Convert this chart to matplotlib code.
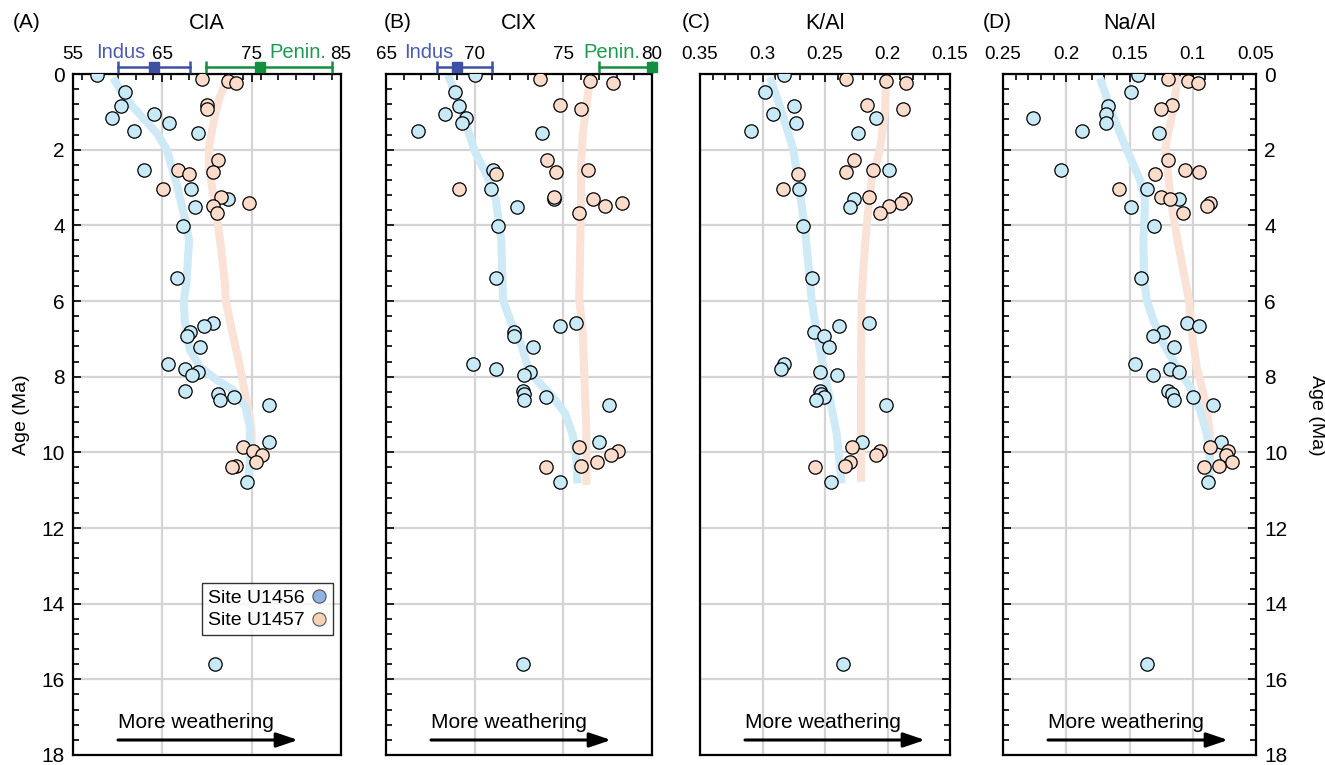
import numpy as np
import matplotlib.pyplot as plt
from matplotlib.lines import Line2D
from matplotlib.ticker import FixedLocator, MultipleLocator, FuncFormatter
import matplotlib.transforms as mtransforms

plt.rcParams['font.family'] = ['Liberation Sans', 'DejaVu Sans']

W, H = 1325, 765

# --- sample ages (Ma) ---
AGE_U1456 = [0.03, 0.47, 0.85, 1.07, 1.17, 1.30, 1.50, 1.56, 2.53, 3.04, 3.31, 3.52, 4.03, 5.40,
             6.59, 6.66, 6.82, 6.93, 7.21, 7.66, 7.79, 7.88, 7.96, 8.39, 8.47, 8.53, 8.61, 8.76,
             9.72, 10.79, 15.60]
AGE_U1457 = [0.13, 0.19, 0.25, 0.82, 0.93, 2.28, 2.54, 2.59, 2.64, 3.04, 3.24, 3.31, 3.40, 3.50,
             3.68, 9.86, 9.97, 10.08, 10.26, 10.35, 10.39]

# --- weathering indices, same order as the ages ---
CIA_U1456 = [57.7, 60.8, 60.4, 64.1, 59.4, 65.7, 61.8, 69.0, 63.0, 68.2, 72.4, 68.7, 67.3, 66.6,
             70.7, 69.7, 68.1, 67.8, 69.2, 65.6, 67.5, 69.0, 68.3, 67.5, 71.2, 73.0, 71.4, 76.9,
             76.9, 74.5, 70.9]
CIA_U1457 = [69.4, 72.3, 73.3, 70.0, 70.0, 71.2, 66.8, 70.7, 68.0, 65.1, 71.6, np.nan, 74.7, 70.7,
             71.1, 74.0, 75.2, 76.2, 75.5, 73.3, 72.8]

CIX_U1456 = [70.0, 68.9, 69.1, 68.3, 69.5, 69.3, 66.8, 73.8, 71.05, 70.9, 74.5, 72.4, 71.3, 71.2,
             75.7, 74.8, 72.2, 72.2, 73.3, 69.9, 71.2, 73.1, 72.8, 72.7, 72.8, 74.0, 72.8, 77.6,
             77.0, 74.8, 72.7]
CIX_U1457 = [73.7, 76.5, 77.8, 74.8, 76.0, 74.1, 76.4, 74.6, 71.2, 69.1, 74.5, 76.7, 78.3, 77.35,
             75.9, 75.9, 78.1, 77.7, 76.9, 76.0, 74.0]

KAL_U1456 = [0.2828, 0.2983, 0.2746, 0.2913, 0.2094, 0.2729, 0.3090, 0.2233, 0.1990, 0.2708,
             0.2265, 0.2300, 0.2676, 0.2604, 0.2145, 0.2388, 0.2591, 0.2505, 0.2471, 0.2831,
             0.2849, 0.2540, 0.2404, 0.2540, 0.2532, 0.2505, 0.2575, 0.2010, 0.2201, 0.2452, 0.2356]
KAL_U1457 = [0.2332, 0.2010, 0.1855, 0.2164, 0.1873, 0.2265, 0.2113, 0.2334, 0.2713, 0.2833,
             0.2148, 0.1858, 0.1892, 0.1990, 0.2062, 0.2284, 0.2060, 0.2094, 0.2297, 0.2337, 0.2577]

NAAL_U1456 = [0.1433, 0.1486, 0.1673, 0.1689, 0.2265, 0.1689, 0.1873, 0.1264, 0.2044, 0.1364,
              0.1111, 0.1490, 0.1306, 0.1409, 0.1045, 0.0948, 0.1235, 0.1317, 0.1151, 0.1454,
              0.1182, 0.1111, 0.1317, 0.1198, 0.1164, 0.0996, 0.1148, 0.0842, 0.0779, 0.0877, 0.1362]
NAAL_U1457 = [0.1196, 0.1035, 0.0961, 0.1164, 0.1249, 0.1196, 0.1059, 0.0948, 0.1301, 0.1583,
              0.1249, 0.1180, 0.0864, 0.0887, 0.1077, 0.0861, 0.0721, 0.0739, 0.0690, 0.0792, 0.0911]

# --- smoothed trends ---
FIT_AGE_CIA_1456 = [0.1, 0.5, 0.87, 1.2, 1.57, 2.0, 2.5, 2.9, 3.4, 3.8, 4.4, 5.5, 6.0, 6.5, 7.0,
                    7.3, 7.74, 8.09, 8.35, 8.8, 9.32, 9.94, 10.7]
FIT_CIA_1456 = [59.5, 60.5, 61.7, 63.0, 64.4, 65.5, 66.1, 66.6, 67.1, 67.5, 68.0, 67.7, 67.4, 67.5,
                67.8, 68.1, 69.2, 71.1, 72.9, 74.3, 74.8, 74.8, 74.7]
FIT_AGE_CIA_1457 = [0.16, 0.69, 1.2, 1.57, 2.0, 2.45, 2.89, 3.33, 3.77, 4.65, 5.53, 6.0, 6.9, 7.74,
                    8.5, 9.06, 9.5, 10.0, 10.4]
FIT_CIA_1457 = [72.2, 71.3, 70.8, 70.5, 70.2, 70.2, 70.5, 70.8, 71.1, 71.6, 72.0, 72.1, 72.9, 73.7,
                74.3, 74.8, 75.0, 75.0, 74.9]

FIT_AGE_CIX_1456 = [0.03, 0.86, 2.03, 2.8, 3.33, 4.4, 5.97, 6.5, 7.12, 7.74, 8.09, 8.53, 8.97, 9.5,
                    9.94, 10.82]
FIT_CIX_1456 = [68.5, 69.2, 70.0, 70.8, 71.2, 71.5, 71.6, 72.0, 72.6, 73.0, 73.5, 74.4, 75.1, 75.5,
                75.7, 75.8]
FIT_AGE_CIX_1457 = [0.16, 0.5, 1.57, 2.45, 3.33, 5.97, 6.85, 8.18, 9.5, 10.86]
FIT_CIX_1457 = [76.5, 76.4, 76.1, 76.0, 76.0, 75.9, 76.1, 76.2, 76.3, 76.3]

FIT_AGE_KAL_1456 = [0.09, 0.86, 2.0, 3.15, 4.1, 5.97, 6.85, 7.74, 8.62, 9.5, 10.82]
FIT_KAL_1456 = [0.294, 0.286, 0.2753, 0.270, 0.266, 0.2607, 0.2567, 0.2513, 0.246, 0.2407, 0.2367]
FIT_AGE_KAL_1457 = [0.16, 0.95, 2.0, 2.8, 3.33, 4.03, 5.0, 5.97, 7.74, 10.78]
FIT_KAL_1457 = [0.2012, 0.2020, 0.2060, 0.2127, 0.2146, 0.2167, 0.2190, 0.2207, 0.2212, 0.2212]

FIT_AGE_NAAL_1456 = [0.11, 1.13, 2.0, 2.8, 3.33, 4.4, 5.4, 5.97, 6.5, 7.12, 7.74, 8.27, 8.88, 9.5,
                     9.94, 10.73]
FIT_NAAL_1456 = [0.1733, 0.1628, 0.1522, 0.1417, 0.1377, 0.1390, 0.1385, 0.1364, 0.1312, 0.1233,
                 0.1127, 0.1022, 0.0943, 0.0890, 0.0869, 0.0869]
FIT_AGE_NAAL_1457 = [0.05, 0.95, 1.74, 2.0, 2.71, 3.33, 4.4, 5.45, 5.97, 6.85, 7.74, 8.62, 9.5, 10.4]
FIT_NAAL_1457 = [0.1119, 0.1154, 0.1206, 0.1217, 0.1193, 0.1174, 0.1120, 0.1060, 0.1030, 0.1008,
                 0.0969, 0.0903, 0.0864, 0.0860]

# --- source end-members (centre, low, high) ---
INDUS_CIA = (64.1, 60.0, 68.1)
PENIN_CIA = (75.9, 69.9, 84.0)
INDUS_CIX = (69.0, 67.9, 71.0)
PENIN_CIX = (80.0, 77.0, 80.0)

BLUE_FILL = '#C8E9F6'
ORANGE_FILL = '#FBDCCB'
BLUE_LINE = '#CDEAF6'
ORANGE_LINE = '#FBE2D6'
INDUS_COL = '#3E50A6'
PENIN_COL = '#13903F'

panels = [
    dict(px=(73, 341), title='CIA', letter='(A)', letter_px=27, xlim=(55, 85),
         major=[55, 65, 75, 85], minor=2, v56=CIA_U1456, v57=CIA_U1457,
         f56=(FIT_AGE_CIA_1456, FIT_CIA_1456), f57=(FIT_AGE_CIA_1457, FIT_CIA_1457),
         indus=INDUS_CIA, penin=PENIN_CIA, indus_lab=60.3, penin_lab=80.2,
         yleft=True, yright=False),
    dict(px=(386, 652), title='CIX', letter='(B)', letter_px=398, xlim=(65, 80),
         major=[65, 70, 75, 80], minor=1, v56=CIX_U1456, v57=CIX_U1457,
         f56=(FIT_AGE_CIX_1456, FIT_CIX_1456), f57=(FIT_AGE_CIX_1457, FIT_CIX_1457),
         indus=INDUS_CIX, penin=PENIN_CIX, indus_lab=67.4, penin_lab=77.75,
         yleft=True, yright=False),
    dict(px=(700, 950), title='K/Al', letter='(C)', letter_px=696, xlim=(0.35, 0.15),
         major=[0.35, 0.3, 0.25, 0.2, 0.15], minor=0.01, v56=KAL_U1456, v57=KAL_U1457,
         f56=(FIT_AGE_KAL_1456, FIT_KAL_1456), f57=(FIT_AGE_KAL_1457, FIT_KAL_1457),
         indus=None, penin=None, yleft=False, yright=True),
    dict(px=(1003, 1256), title='Na/Al', letter='(D)', letter_px=997, xlim=(0.25, 0.05),
         major=[0.25, 0.2, 0.15, 0.1, 0.05], minor=0.01, v56=NAAL_U1456, v57=NAAL_U1457,
         f56=(FIT_AGE_NAAL_1456, FIT_NAAL_1456), f57=(FIT_AGE_NAAL_1457, FIT_NAAL_1457),
         indus=None, penin=None, yleft=True, yright=True),
]

TOP, BOT = 74, 755

fig = plt.figure(figsize=(W / 100, H / 100), dpi=100)

for i, p in enumerate(panels):
    l, r = p['px']
    ax = fig.add_axes([l / W, 1 - BOT / H, (r - l) / W, (BOT - TOP) / H])
    ax.set_xlim(*p['xlim'])
    ax.set_ylim(18, 0)

    ax.plot(p['f57'][1], p['f57'][0], color=ORANGE_LINE, lw=5.8, solid_capstyle='butt', zorder=2)
    ax.plot(p['f56'][1], p['f56'][0], color=BLUE_LINE, lw=5.8, solid_capstyle='butt', zorder=2)
    ax.scatter(p['v56'], AGE_U1456, s=92, facecolor=BLUE_FILL, edgecolor='black', linewidths=0.9, zorder=3)
    ax.scatter(p['v57'], AGE_U1457, s=92, facecolor=ORANGE_FILL, edgecolor='black', linewidths=0.9, zorder=4)

    # axes styling
    ax.xaxis.set_major_locator(FixedLocator(p['major']))
    ax.xaxis.set_minor_locator(MultipleLocator(p['minor']))
    ax.xaxis.set_major_formatter(FuncFormatter(lambda v, pos: f'{v:g}'))
    ax.yaxis.set_major_locator(MultipleLocator(2))
    ax.yaxis.set_minor_locator(MultipleLocator(0.4))
    ax.tick_params(axis='x', which='both', direction='in', top=True, bottom=False,
                   labeltop=True, labelbottom=False, labelsize=13.5, pad=8)
    ax.tick_params(axis='y', which='both', direction='in', left=p['yleft'],
                   right=p['yright'], labelleft=(i == 0), labelright=(i == 3), labelsize=15, pad=6)
    ax.tick_params(which='major', length=6, width=1.2)
    ax.tick_params(which='minor', length=4, width=1.2)
    for s in ax.spines.values():
        s.set_linewidth(1.6)
    ax.grid(True, which='major', color='#d4d4d4', lw=1.6)
    ax.set_axisbelow(True)

    ax.text(0.5, 1 + (TOP - 23) / (BOT - TOP), p['title'], transform=ax.transAxes,
            ha='center', va='center', fontsize=15.5)
    ax.text((p['letter_px'] - l) / (r - l), 1 + (TOP - 22) / (BOT - TOP), p['letter'],
            transform=ax.transAxes, ha='center', va='center', fontsize=15)

    # source end-member bars
    if p['indus'] is not None:
        trans = mtransforms.blended_transform_factory(ax.transData, ax.transAxes)
        for rng, col in [(p['indus'], INDUS_COL), (p['penin'], PENIN_COL)]:
            c, lo, hi = rng
            yb = 1.0105
            ax.plot([lo, hi], [yb, yb], color=col, lw=1.8, transform=trans, clip_on=False, zorder=5)
            ax.plot([lo, hi], [yb, yb], ls='', marker='|', ms=8, mew=1.8, color=col,
                    transform=trans, clip_on=False, zorder=5)
            ax.plot([c], [yb], ls='', marker='s', ms=7, color=col, transform=trans,
                    clip_on=False, zorder=6)
        ax.text(p['indus_lab'], 1 + (TOP - 52) / (BOT - TOP), 'Indus', transform=trans,
                ha='center', va='center', fontsize=14.5, color='#4A5CB2')
        ax.text(p['penin_lab'], 1 + (TOP - 52) / (BOT - TOP), 'Penin.', transform=trans,
                ha='center', va='center', fontsize=14.5, color='#1C9A4E')

    # weathering arrow
    ax.annotate('', xy=(225, 15), xytext=(45, 15), xycoords='axes pixels',
                textcoords='axes pixels',
                arrowprops=dict(arrowstyle='-|>,head_length=0.65,head_width=0.22',
                                mutation_scale=20, lw=2.2, color='black',
                                shrinkA=0, shrinkB=0))
    ax.annotate('More weathering', xy=(45, 33), xycoords='axes pixels',
                ha='left', va='center', fontsize=15)

    if i == 0:
        handles = [
            Line2D([], [], ls='', marker='o', ms=9.5, mfc='#8DB4E2', mec='#555555', mew=0.8,
                   label='Site U1456'),
            Line2D([], [], ls='', marker='o', ms=9.5, mfc='#F9D2B6', mec='#555555', mew=0.8,
                   label='Site U1457'),
        ]
        leg = ax.legend(handles=handles, loc='lower right', bbox_to_anchor=(0.970, 0.176),
                        borderaxespad=0, markerfirst=False, fontsize=14, frameon=True,
                        fancybox=False, edgecolor='black', handlelength=0.8,
                        handletextpad=0.35, borderpad=0.3, labelspacing=0.25)
        leg.get_frame().set_linewidth(1.0)
        leg.set_zorder(10)

fig.text(22 / W, 1 - 415 / H, 'Age (Ma)', rotation=90, ha='center', va='center', fontsize=14)
fig.text(1317 / W, 1 - 415 / H, 'Age (Ma)', rotation=270, ha='center', va='center', fontsize=14)

fig.savefig('out.png', dpi=100)
